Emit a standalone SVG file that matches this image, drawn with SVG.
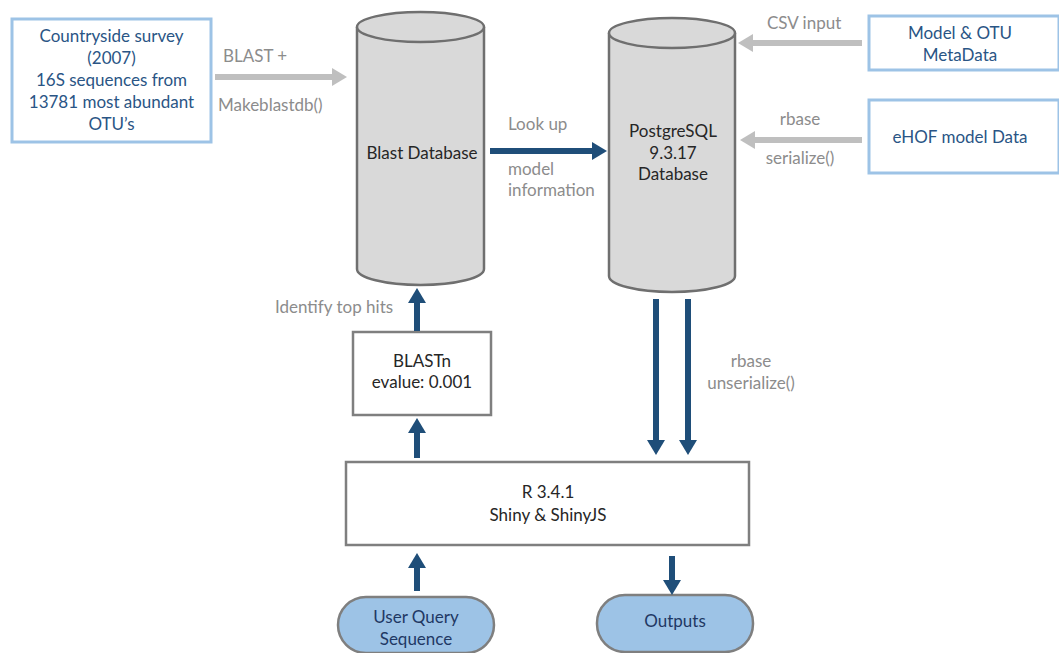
<svg xmlns="http://www.w3.org/2000/svg" width="1059" height="653" viewBox="0 0 1059 653">
<style>
text{font-family:Lato,"Open Sans","Liberation Sans",sans-serif;font-size:17px}
.blue{fill:#2a5585;text-anchor:middle}
.dark{fill:#262626;text-anchor:middle}
.lbl{fill:#8c8c8c}
.lblc{fill:#8c8c8c;text-anchor:middle}
.src{fill:#fff;stroke:#9dc3e6;stroke-width:3}
.box{fill:#fff;stroke:#7f7f7f;stroke-width:2.5}
.cyl{fill:#d9d9d9;stroke:#6f6f6f;stroke-width:2.5}
.pill{fill:#9dc3e6;stroke:#7f7f7f;stroke-width:2.5}
.ga{stroke:#bfbfbf;stroke-width:6;fill:none;marker-end:url(#hg)}
.ba{stroke:#1f4e79;stroke-width:6;fill:none;marker-end:url(#hb)}
</style>
<defs>
<marker id="hg" markerUnits="userSpaceOnUse" markerWidth="16" markerHeight="20" refX="0" refY="10" orient="auto"><path d="M0,1 L15,10 L0,19 z" fill="#bfbfbf"/></marker>
<marker id="hb" markerUnits="userSpaceOnUse" markerWidth="16" markerHeight="20" refX="0" refY="10" orient="auto"><path d="M0,1 L15,10 L0,19 z" fill="#1f4e79"/></marker>
</defs>
<rect width="1059" height="653" fill="#fff"/>

<g id="countryside">
<rect class="src" x="12" y="19" width="199" height="123"/>
<text class="blue" x="111.5" y="42">Countryside survey</text>
<text class="blue" x="111.5" y="64">(2007)</text>
<text class="blue" x="111.5" y="86">16S sequences from</text>
<text class="blue" x="111.5" y="108">13781 most abundant</text>
<text class="blue" x="111.5" y="130">OTU’s</text>
</g>

<g id="blastdb">
<path class="cyl" d="M357,27 L357,269 A63.5,16 0 0 0 484,269 L484,27"/>
<ellipse class="cyl" cx="420.5" cy="27" rx="63.5" ry="15"/>
<text class="dark" x="422" y="159">Blast Database</text>
</g>

<g id="postgres">
<path class="cyl" d="M609,33 L609,276 A63,16 0 0 0 735,276 L735,33"/>
<ellipse class="cyl" cx="672" cy="33" rx="63" ry="15"/>
<text class="dark" x="673" y="137">PostgreSQL</text>
<text class="dark" x="673" y="159">9.3.17</text>
<text class="dark" x="673" y="180">Database</text>
</g>

<g id="metadata">
<rect class="src" x="869" y="16" width="190" height="54"/>
<text class="blue" x="960" y="39">Model &amp; OTU</text>
<text class="blue" x="960" y="61">MetaData</text>
</g>

<g id="ehof">
<rect class="src" x="869" y="100" width="190" height="73"/>
<text class="blue" x="960" y="143">eHOF model Data</text>
</g>

<g id="blastn">
<rect class="box" x="353" y="332" width="138" height="83"/>
<text class="dark" x="422" y="367">BLASTn</text>
<text class="dark" x="422" y="388">evalue: 0.001</text>
</g>

<g id="rbox">
<rect class="box" x="346" y="462" width="403" height="83"/>
<text class="dark" x="548" y="498">R 3.4.1</text>
<text class="dark" x="548" y="521">Shiny &amp; ShinyJS</text>
</g>

<g id="userquery">
<rect class="pill" x="338" y="597" width="156" height="56" rx="28"/>
<text class="blue" x="416" y="623" style="fill:#1f3864">User Query</text>
<text class="blue" x="416" y="645" style="fill:#1f3864">Sequence</text>
</g>

<g id="outputs">
<rect class="pill" x="597" y="595" width="156" height="57" rx="28"/>
<text class="blue" x="675" y="627" style="fill:#1f3864">Outputs</text>
</g>

<g id="connectors">
<line class="ga" x1="215" y1="77" x2="332" y2="77"/>
<line class="ga" x1="862" y1="43" x2="753" y2="43"/>
<line class="ga" x1="862" y1="140" x2="755" y2="140"/>
<line class="ba" x1="490" y1="151" x2="592" y2="151"/>
<line class="ba" x1="417" y1="331" x2="417" y2="303"/>
<line class="ba" x1="417" y1="458" x2="417" y2="433"/>
<line class="ba" x1="656" y1="299" x2="656" y2="440"/>
<line class="ba" x1="688" y1="299" x2="688" y2="440"/>
<line class="ba" x1="417" y1="591" x2="417" y2="568"/>
<line class="ba" x1="672" y1="556" x2="672" y2="580"/>
</g>

<g id="labels">
<text class="lbl" x="223" y="62">BLAST +</text>
<text class="lbl" x="218" y="111">Makeblastdb()</text>
<text class="lbl" x="508" y="130">Look up</text>
<text class="lbl" x="508" y="175">model</text>
<text class="lbl" x="508" y="196">information</text>
<text class="lbl" x="767" y="29">CSV input</text>
<text class="lblc" x="800" y="125">rbase</text>
<text class="lblc" x="800" y="164">serialize()</text>
<text class="lbl" x="275" y="313">Identify top hits</text>
<text class="lblc" x="751" y="367">rbase</text>
<text class="lblc" x="751" y="389">unserialize()</text>
</g>
</svg>
